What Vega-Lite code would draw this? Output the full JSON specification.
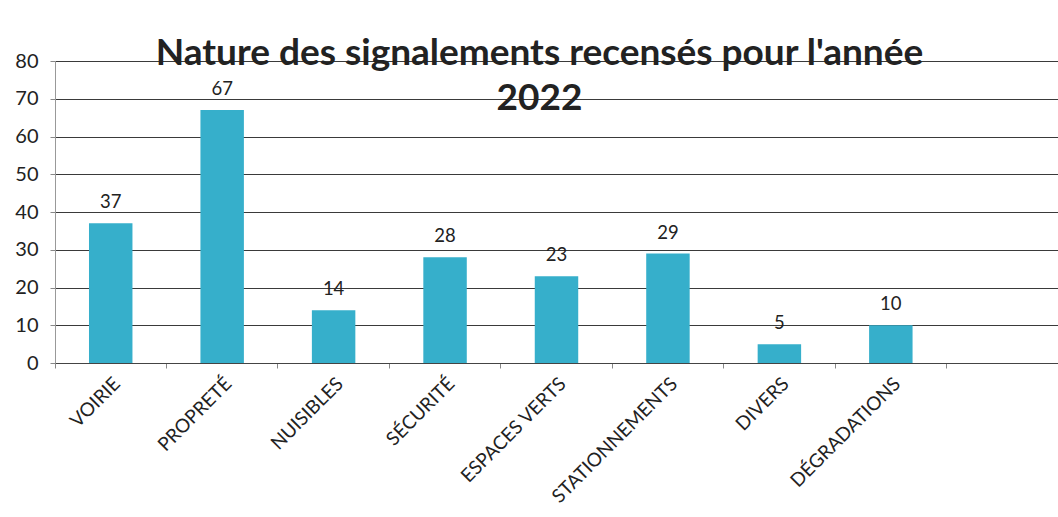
{
  "$schema": "https://vega.github.io/schema/vega-lite/v6.json",
  "width": 1003,
  "height": 302,
  "autosize": {"type": "none"},
  "padding": {"left": 55, "top": 61, "right": 0, "bottom": 154},
  "background": "white",
  "title": {
    "text": ["Nature des signalements recensés pour l'année", "2022"],
    "font": "Lato",
    "fontSize": 37,
    "fontWeight": "bold",
    "color": "#222222",
    "anchor": "middle",
    "baseline": "top",
    "lineHeight": 45,
    "dx": -17,
    "offset": -67
  },
  "data": {
    "values": [
      {"cat": "VOIRIE", "value": 37},
      {"cat": "PROPRETÉ", "value": 67},
      {"cat": "NUISIBLES", "value": 14},
      {"cat": "SÉCURITÉ", "value": 28},
      {"cat": "ESPACES VERTS", "value": 23},
      {"cat": "STATIONNEMENTS", "value": 29},
      {"cat": "DIVERS", "value": 5},
      {"cat": "DÉGRADATIONS", "value": 10}
    ]
  },
  "encoding": {
    "x": {
      "field": "cat",
      "type": "nominal",
      "sort": null,
      "title": null,
      "scale": {
        "domain": ["VOIRIE", "PROPRETÉ", "NUISIBLES", "SÉCURITÉ", "ESPACES VERTS", "STATIONNEMENTS", "DIVERS", "DÉGRADATIONS", " "],
        "paddingInner": 0,
        "paddingOuter": 0
      },
      "axis": {
        "bandPosition": 0,
        "labelOffset": 0,
        "labelAngle": -45,
        "labelFont": "Lato",
        "labelFontSize": 19,
        "labelColor": "#222222",
        "labelPadding": 6,
        "domainColor": "#444444",
        "tickColor": "#888888",
        "tickSize": 5,
        "grid": false
      }
    },
    "y": {
      "field": "value",
      "type": "quantitative",
      "title": null,
      "scale": {"domain": [0, 80], "nice": false},
      "axis": {
        "values": [0, 10, 20, 30, 40, 50, 60, 70, 80],
        "labelFont": "Lato",
        "labelFontSize": 20,
        "labelColor": "#222222",
        "labelPadding": 12,
        "domainColor": "#999999",
        "tickColor": "#888888",
        "tickSize": 5,
        "grid": true,
        "gridColor": "#3a3a3a",
        "gridWidth": 1
      }
    }
  },
  "layer": [
    {"mark": {"type": "bar", "color": "#36afcb", "width": {"band": 0.39}}},
    {
      "mark": {"type": "text", "dy": -11, "font": "Lato", "fontSize": 18.5, "color": "#222222", "baseline": "bottom"},
      "encoding": {"text": {"field": "value", "type": "quantitative"}}
    }
  ],
  "config": {"view": {"stroke": null}}
}
